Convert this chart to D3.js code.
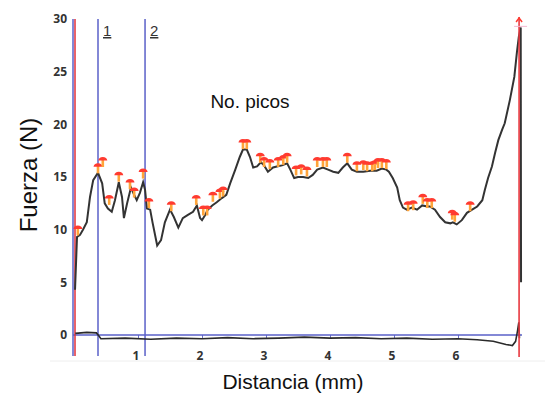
<!DOCTYPE html>
<html>
<head>
<meta charset="utf-8">
<script src="https://cdn.jsdelivr.net/npm/d3@7"></script>
<style>
  body { margin: 0; background: #fff; }
  svg { display: block; }
</style>
</head>
<body>
<div id="chart"></div>
<script>
/// Data (distance in mm, force in N)
const xTicks = [1, 2, 3, 4, 5, 6];
const yTicks = [0, 5, 10, 15, 20, 25, 30];

const forceCurve = [
  [0.016, 4.3], [0.047, 9.3], [0.094, 9.5], [0.14, 10.0], [0.20, 10.7], [0.25, 13.1],
  [0.30, 14.7], [0.375, 15.4], [0.44, 14.4], [0.48, 12.5], [0.53, 12.0], [0.59, 11.7],
  [0.64, 12.8], [0.70, 14.5], [0.75, 13.1], [0.78, 11.1], [0.83, 12.5], [0.89, 14.0],
  [0.94, 13.3], [0.98, 12.8], [1.03, 13.5], [1.08, 14.5], [1.11, 13.8], [1.14, 12.0],
  [1.19, 11.9], [1.23, 10.6], [1.30, 8.5], [1.36, 9.0], [1.42, 10.7], [1.50, 11.9],
  [1.56, 11.2], [1.63, 10.2], [1.70, 11.1], [1.78, 11.4], [1.86, 11.7], [1.92, 12.3],
  [1.97, 11.1], [2.00, 10.9], [2.05, 11.4], [2.09, 11.9], [2.16, 12.3], [2.23, 12.6],
  [2.31, 13.0], [2.38, 13.3], [2.44, 14.4], [2.52, 15.7], [2.59, 16.9], [2.64, 17.6],
  [2.70, 17.6], [2.75, 16.9], [2.80, 15.9], [2.86, 16.0], [2.92, 16.4], [2.97, 16.1],
  [3.03, 15.5], [3.11, 15.9], [3.17, 16.0], [3.25, 16.1], [3.33, 16.3], [3.38, 15.7],
  [3.44, 14.9], [3.50, 15.0], [3.58, 15.0], [3.66, 14.9], [3.73, 15.2], [3.80, 15.7],
  [3.89, 15.9], [3.97, 15.7], [4.05, 15.5], [4.13, 15.4], [4.20, 15.9], [4.27, 16.3],
  [4.34, 15.7], [4.42, 15.5], [4.52, 15.5], [4.63, 15.6], [4.73, 15.6], [4.81, 15.8],
  [4.88, 15.7], [4.92, 15.5], [4.98, 14.9], [5.05, 14.0], [5.09, 12.8], [5.14, 12.1],
  [5.20, 11.9], [5.28, 12.1], [5.36, 11.9], [5.44, 12.3], [5.52, 12.2], [5.56, 12.2],
  [5.64, 11.9], [5.72, 11.2], [5.80, 10.7], [5.88, 10.6], [5.92, 10.7], [5.98, 10.5],
  [6.06, 10.9], [6.14, 11.6], [6.22, 11.9], [6.30, 12.2], [6.38, 12.8], [6.42, 13.8],
  [6.47, 14.9], [6.53, 16.0], [6.58, 17.3], [6.63, 18.5], [6.69, 19.5], [6.73, 20.1],
  [6.81, 22.3], [6.88, 24.5], [6.92, 26.8], [6.95, 28.3], [6.98, 29.2], [6.985, 5.0]
];

const baseCurve = [
  [0.02, 0.15], [0.2, 0.25], [0.35, 0.2], [0.39, -0.1], [0.42, -0.35], [0.8, -0.3],
  [1.2, -0.4], [1.6, -0.3], [2.0, -0.35], [2.4, -0.25], [2.8, -0.35], [3.2, -0.3],
  [3.6, -0.2], [4.0, -0.3], [4.4, -0.25], [4.8, -0.35], [5.2, -0.3], [5.6, -0.4],
  [6.0, -0.35], [6.3, -0.45], [6.55, -0.6], [6.75, -0.9], [6.85, -1.0], [6.9, -0.6],
  [6.93, 0.4], [6.95, 1.2], [6.96, -0.3]
];

/// Peak markers (position of the top of each pin)
const peakX = [0.06, 0.375, 0.45, 0.55, 0.70, 0.875, 0.94, 1.08, 1.17, 1.52, 1.91, 2.02,
  2.08, 2.17, 2.28, 2.33, 2.64, 2.70, 2.91, 2.97, 3.06, 3.19, 3.27, 3.33, 3.47, 3.55,
  3.64, 3.80, 3.89, 3.95, 4.27, 4.42, 4.52, 4.58, 4.66, 4.70, 4.75, 4.81, 4.88, 5.22,
  5.30, 5.45, 5.52, 5.59, 5.91, 5.95, 6.19];
const peakY = [10.4, 16.3, 16.9, 13.3, 15.5, 14.8, 14.0, 15.8, 13.0, 12.7, 13.3, 12.3,
  12.3, 13.6, 13.9, 14.1, 18.6, 18.6, 17.3, 16.9, 16.7, 16.9, 17.1, 17.3, 16.1, 16.2,
  16.0, 16.9, 16.9, 16.9, 17.3, 16.5, 16.6, 16.5, 16.5, 16.6, 16.8, 16.8, 16.7, 12.7,
  12.8, 13.4, 13.0, 13.0, 11.9, 11.7, 12.7];

/// Cursor lines
const cursorX = [0.375, 1.11];
const cursorLabels = ['1', '2'];
const startX = 0;
const endX = 6.97;

const width = 545, height = 394;

const svg = d3.select('#chart').append('svg')
  .attr('width', width)
  .attr('height', height);

const x = d3.scaleLinear().domain([0, 7]).range([74, 522]);
const y = d3.scaleLinear().domain([0, 30]).range([335, 19]);

/// faint frame line
svg.append('line')
  .attr('x1', 50).attr('x2', 545).attr('y1', 361).attr('y2', 361)
  .attr('stroke', '#eeeeee').attr('stroke-width', 1);

/// y axis labels
const yAxis = d3.axisLeft(y).tickValues(yTicks).tickSize(0).tickPadding(7);
svg.append('g')
  .attr('transform', 'translate(' + 74 + ',0)')
  .call(yAxis)
  .call(g => g.select('.domain').remove())
  .selectAll('text')
  .attr('font-family', '"Open Sans", sans-serif')
  .attr('font-weight', 700)
  .attr('font-size', 12)
  .attr('fill', '#333');

/// x axis (blue zero line with small ticks)
const xAxis = d3.axisBottom(x).tickValues(xTicks).tickSize(3).tickFormat('');
svg.append('g')
  .attr('transform', 'translate(0,' + y(0) + ')')
  .call(xAxis)
  .call(g => g.select('.domain').remove())
  .selectAll('line').attr('stroke', '#6a6fc4');

svg.append('line')
  .attr('x1', x(0) - 1).attr('x2', x(7))
  .attr('y1', y(0)).attr('y2', y(0))
  .attr('stroke', '#5a60c8').attr('stroke-width', 1.5);

svg.append('g')
  .selectAll('text')
  .data(xTicks)
  .enter().append('text')
  .attr('x', d => x(d) - 2)
  .attr('y', 360)
  .attr('text-anchor', 'middle')
  .attr('font-family', '"Open Sans", sans-serif')
  .attr('font-weight', 700)
  .attr('font-size', 12)
  .attr('fill', '#333')
  .text(d => d);

/// blue line along start and red start line
svg.append('line')
  .attr('x1', x(startX) - 1).attr('x2', x(startX) - 1)
  .attr('y1', y(30)).attr('y2', 356)
  .attr('stroke', '#5a60c8').attr('stroke-width', 1.5);
svg.append('line')
  .attr('x1', x(startX) + 1).attr('x2', x(startX) + 1)
  .attr('y1', y(30)).attr('y2', 356)
  .attr('stroke', '#e0303a').attr('stroke-width', 1.5);

/// cursor lines 1 and 2
svg.append('g')
  .selectAll('line')
  .data(cursorX)
  .enter().append('line')
  .attr('x1', d => x(d)).attr('x2', d => x(d))
  .attr('y1', y(30)).attr('y2', 356)
  .attr('stroke', '#5a60c8').attr('stroke-width', 1.5);

svg.append('g')
  .selectAll('text')
  .data(cursorX)
  .enter().append('text')
  .attr('x', d => x(d) + 5)
  .attr('y', 36)
  .attr('font-family', '"Liberation Sans", Arial, sans-serif')
  .attr('font-size', 15)
  .attr('fill', '#333')
  .attr('text-decoration', 'underline')
  .text((d, i) => cursorLabels[i]);

/// baseline curve
const line = d3.line().x(d => x(d[0])).y(d => y(d[1]));
svg.append('path')
  .datum(baseCurve)
  .attr('d', line)
  .attr('fill', 'none')
  .attr('stroke', '#2a2a2a')
  .attr('stroke-width', 1.6);

/// force curve
svg.append('path')
  .datum(forceCurve)
  .attr('d', line)
  .attr('fill', 'none')
  .attr('stroke', '#333')
  .attr('stroke-width', 2);

/// end line (red)
svg.append('line')
  .attr('x1', x(endX) - 1).attr('x2', x(endX) - 1)
  .attr('y1', y(30) - 2).attr('y2', 357)
  .attr('stroke', '#e8383f').attr('stroke-width', 1.6);
svg.append('line')
  .attr('x1', x(endX) - 6).attr('x2', x(endX) + 7)
  .attr('y1', y(29.3)).attr('y2', y(29.3))
  .attr('stroke', '#f4b8d0').attr('stroke-width', 1);

/// peak markers: red cap with orange stem
const pins = svg.append('g')
  .selectAll('g')
  .data(peakX.map((d, i) => [d, peakY[i]]))
  .enter().append('g')
  .attr('transform', d => 'translate(' + x(d[0]) + ',' + y(d[1]) + ')');

pins.append('rect')
  .attr('x', -1.3).attr('y', 2)
  .attr('width', 2.6).attr('height', 8)
  .attr('fill', '#ffa43a');
pins.append('path')
  .attr('d', 'M-4.5,3.5 Q-4,0 0,0 Q4,0 4.5,3.5 Z')
  .attr('fill', '#ff3b30');

/// top marker on the end line
svg.append('path')
  .attr('d', 'M' + (x(endX) - 4) + ',' + (y(30) + 3) + ' L' + (x(endX) - 1) + ',' + (y(30) - 1) + ' L' + (x(endX) + 2) + ',' + (y(30) + 3))
  .attr('fill', 'none')
  .attr('stroke', '#ff3b30')
  .attr('stroke-width', 1.5);

/// titles
svg.append('text')
  .attr('x', 250).attr('y', 108)
  .attr('text-anchor', 'middle')
  .attr('font-family', '"Liberation Sans", Arial, sans-serif')
  .attr('font-size', 19)
  .attr('fill', '#111')
  .text('No. picos');

svg.append('text')
  .attr('transform', 'translate(37,175) rotate(-90)')
  .attr('text-anchor', 'middle')
  .attr('font-family', '"Liberation Sans", Arial, sans-serif')
  .attr('font-size', 24)
  .attr('fill', '#111')
  .text('Fuerza (N)');

svg.append('text')
  .attr('x', 293).attr('y', 389)
  .attr('text-anchor', 'middle')
  .attr('font-family', '"Liberation Sans", Arial, sans-serif')
  .attr('font-size', 21)
  .attr('fill', '#111')
  .text('Distancia (mm)');
</script>
</body>
</html>
